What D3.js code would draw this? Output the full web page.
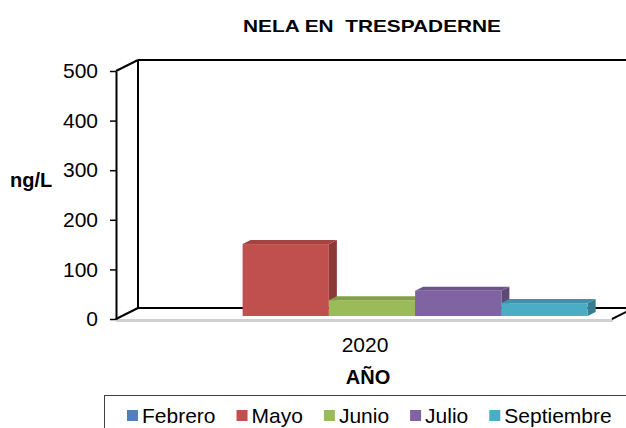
<!DOCTYPE html>
<html>
<head>
<meta charset="utf-8">
<script src="https://cdn.jsdelivr.net/npm/d3@7"></script>
<style>
  body { margin: 0; background: #fff; }
  text { font-family: Arial, "Liberation Sans", sans-serif; fill: #000; }
</style>
</head>
<body>
<div id="chart"></div>
<script>
var W = 626, H = 428;

// data
const categories = ["2020"];
const seriesNames = ["Febrero", "Mayo", "Junio", "Julio", "Septiembre"];
const seriesValues = [0, 145, 32, 51, 26];
const seriesColors = ["#4F81BD", "#C0504D", "#9BBB59", "#8064A2", "#4BACC6"];
const yTicks = [0, 100, 200, 300, 400, 500];

// 3d offsets (floor depth and bar position in depth)
var depth = {dx: 22, dy: -11};
var barFront = {dx: 8, dy: -3};
var barDepth = {dx: 8, dy: -4};

const svg = d3.select("#chart")
    .append("svg")
        .attr("width", W)
        .attr("height", H);

var x0 = d3.scaleBand()
    .domain(categories)
    .range([116, 612])
    .paddingOuter(0.075);

var x1 = d3.scaleBand()
    .domain(seriesNames)
    .range([0, x0.bandwidth()]);

var y = d3.scaleLinear()
    .domain([0, 500])
    .range([319, 71]);

// walls and floor
var g = svg.append("g");
var pLeft = 116, pRight = 612, pTop = y(500), pBot = y(0);

// floor front edge (gray slab)
g.append("rect")
    .attr("x", pLeft).attr("y", pBot)
    .attr("width", pRight - pLeft + 1).attr("height", 3)
    .attr("fill", "#d0d0d0");

var black = [
    [[pLeft, pTop], [pLeft + depth.dx, pTop + depth.dy]],
    [[pLeft + depth.dx, pTop + depth.dy], [W + 10, pTop + depth.dy]],
    [[pLeft + depth.dx, pTop + depth.dy], [pLeft + depth.dx, pBot + depth.dy]],
    [[pLeft, pBot], [pLeft + depth.dx, pBot + depth.dy]],
    [[pLeft + depth.dx, pBot + depth.dy], [pRight + depth.dx, pBot + depth.dy]],
    [[pRight, pBot], [pRight + depth.dx, pBot + depth.dy]]
];
g.selectAll("line.edge")
    .data(black)
    .enter()
    .append("line")
        .attr("class", "edge")
        .attr("x1", d => d[0][0]).attr("y1", d => d[0][1])
        .attr("x2", d => d[1][0]).attr("y2", d => d[1][1])
        .attr("stroke", "#000")
        .attr("stroke-width", 2);

// bars
var bars = svg.append("g");
seriesNames.forEach(function(name, i) {
    var v = seriesValues[i];
    if (!v) return;
    var xa = x0("2020") + x1(name) + barFront.dx;
    var xb = xa + x1.bandwidth();
    var yb = y(0) + barFront.dy;
    var yt = y(v) + barFront.dy;
    var c = d3.color(seriesColors[i]);
    var ddx = barDepth.dx, ddy = barDepth.dy;
    // side
    bars.append("path")
        .attr("d", `M${xb},${yt}L${xb + ddx},${yt + ddy}L${xb + ddx},${yb + ddy}L${xb},${yb}Z`)
        .attr("fill", c.darker(0.9));
    // top
    bars.append("path")
        .attr("d", `M${xa},${yt}L${xa + ddx},${yt + ddy}L${xb + ddx},${yt + ddy}L${xb},${yt}Z`)
        .attr("fill", c.darker(0.45));
    // front
    bars.append("rect")
        .attr("x", xa).attr("y", yt)
        .attr("width", xb - xa).attr("height", yb - yt)
        .attr("fill", c);
});

// y axis
var yAxis = svg.append("g")
    .attr("transform", "translate(" + pLeft + ",0)")
    .call(d3.axisLeft(y).tickValues(yTicks).tickSize(6).tickSizeOuter(0).tickPadding(12));
yAxis.select(".domain").attr("stroke", "#000").attr("stroke-width", 2);
yAxis.selectAll(".tick line").attr("stroke", "#000").attr("stroke-width", 1.5);
yAxis.selectAll(".tick text")
    .attr("font-family", "Arial, 'Liberation Sans', sans-serif")
    .attr("font-size", 21)
    .attr("fill", "#000");

// category label
svg.selectAll("text.cat")
    .data(categories)
    .enter()
    .append("text")
        .attr("class", "cat")
        .attr("x", d => x0(d) + x0.bandwidth() / 2 + 1)
        .attr("y", 352)
        .attr("text-anchor", "middle")
        .attr("font-size", 21)
        .text(d => d);

// titles
svg.append("text")
    .attr("x", 372).attr("y", 32)
    .attr("text-anchor", "middle")
    .attr("font-size", 16.5)
    .attr("font-weight", "bold")
    .attr("textLength", 258)
    .attr("lengthAdjust", "spacingAndGlyphs")
    .style("white-space", "pre")
    .text("NELA EN  TRESPADERNE");

svg.append("text")
    .attr("x", 10).attr("y", 187)
    .attr("font-size", 20)
    .attr("font-weight", "bold")
    .text("ng/L");

svg.append("text")
    .attr("x", 368).attr("y", 384)
    .attr("text-anchor", "middle")
    .attr("font-size", 20)
    .attr("font-weight", "bold")
    .text("AÑO");

// legend
svg.append("rect")
    .attr("x", 104.5).attr("y", 395.5)
    .attr("width", 540).attr("height", 60)
    .attr("fill", "none")
    .attr("stroke", "#404040")
    .attr("stroke-width", 1);

var lx = 127;
seriesNames.forEach(function(name, i) {
    svg.append("rect")
        .attr("x", lx).attr("y", 410)
        .attr("width", 11).attr("height", 11)
        .attr("fill", seriesColors[i]);
    var t = svg.append("text")
        .attr("x", lx + 15).attr("y", 423)
        .attr("font-size", 21)
        .text(name);
    lx += 15 + t.node().getComputedTextLength() + 21;
});
</script>
</body>
</html>
